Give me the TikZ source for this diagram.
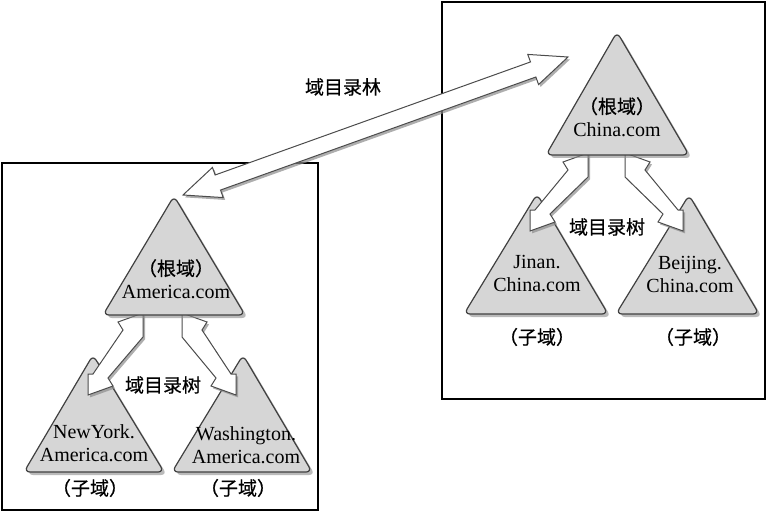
\documentclass[tikz,border=0pt]{standalone}
\usepackage{fontspec}
\setmainfont{Liberation Serif}
\newfontfamily\cjk{Noto Sans CJK SC}[FakeBold=0.5]
\usetikzlibrary{calc,shadows}

% hollow double arrow: [opts] from, to, head length, head half width, shaft half width
\newcommand\hollowarrow[6][]{%
  \draw[harrow,#1] (#2)
    -- ($(#2)!#4!(#3)!#5!90:(#3)$)
    -- ($(#2)!#4!(#3)!#6!90:(#3)$)
    -- ($(#3)!#4!(#2)!#6!-90:(#2)$)
    -- ($(#3)!#4!(#2)!#5!-90:(#2)$)
    -- (#3)
    -- ($(#3)!#4!(#2)!#5!90:(#2)$)
    -- ($(#3)!#4!(#2)!#6!90:(#2)$)
    -- ($(#2)!#4!(#3)!#6!-90:(#3)$)
    -- ($(#2)!#4!(#3)!#5!-90:(#3)$)
    -- cycle;}
% slanted tree link: top tip, bottom tip, side (1 = leans left, -1 = leans right)
\newcommand\treearrow[3]{%
  \draw[harrow] (#1)
    -- ($(#1)+(0,24)$)
    -- ($(#2)+(#3*20,-17)$)
    -- ($(#2)+(#3*25,-9)$)
    -- (#2)
    -- ($(#2)+(0,-21)$)
    -- ($(#2)+(#3*5,-21)$)
    -- ($(#1)+(-#3*20,17)$)
    -- ($(#1)+(-#3*25,9)$)
    -- cycle;}
\newcommand\zh{\cjk\fontsize{9.5}{11.5}\selectfont}

\begin{document}
\begin{tikzpicture}[
  x=0.5pt, y=-0.5pt,
  bx/.style={draw=black, line width=1.2pt},
  tri/.style={fill=black!16, draw=black!75, line width=0.6pt, rounded corners=3pt,
    drop shadow={shadow xshift=1.5pt, shadow yshift=-1.5pt, fill=black!45, opacity=0.6}},
  harrow/.style={fill=white, draw=black!70, line width=0.5pt, line join=miter,
    drop shadow={shadow xshift=1pt, shadow yshift=-1.2pt, fill=black!45, opacity=0.7}},
  lbl/.style={align=center, inner sep=0pt, font=\fontsize{10}{11.5}\selectfont},
]

\useasboundingbox (0,0) rectangle (769,518);

% two domain boxes
\draw [bx] (2,163) rectangle (318,510);
\draw [bx] (442,2) rectangle (765,399);

% child domains
\draw [tri] (94,472) -- (164,472) -- (93,355) -- (24,472) -- cycle;
\draw [tri] (242,472) -- (312,472) -- (243,355) -- (172,472) -- cycle;
\draw [tri] (536,314) -- (608,314) -- (537,194) -- (464,314) -- cycle;
\draw [tri] (688,314) -- (759,314) -- (689,195) -- (616,314) -- cycle;

% tree links
\coordinate (amup1) at (143,313);
\coordinate (amny) at (88,395);
\coordinate (amup2) at (182,313);
\coordinate (amwa) at (236,395);
\coordinate (cnup1) at (588,153);
\coordinate (cnjn) at (530,231);
\coordinate (cnup2) at (625,153);
\coordinate (cnbj) at (683,231);

\treearrow{amup1}{amny}{1}
\treearrow{amup2}{amwa}{-1}
\treearrow{cnup1}{cnjn}{1}
\treearrow{cnup2}{cnbj}{-1}

% root domains
\draw [tri] (174,315) -- (245,315) -- (174,196) -- (103,315) -- cycle;
\draw [tri] (617,155) -- (689,155) -- (617,32) -- (546,155) -- cycle;

% forest link
\coordinate (fam) at (183,195);
\coordinate (fcn) at (568,57);
\hollowarrow{fam}{fcn}{18.5pt}{8pt}{4pt}

% labels
\node [lbl] (amroot) at (176,279) {{\zh （根域）}\\America.com};
\node [lbl] (amnylbl) at (94,443) {NewYork.\\America.com};
\node [lbl] (amwalbl) at (246,445) {Washington.\\America.com};
\node [lbl] (amsub1) at (90,488) {\zh （子域）};
\node [lbl] (amsub2) at (238,488) {\zh （子域）};
\node [lbl] (amtree) at (163,385) {\zh 域目录树};

\node [lbl] (cnroot) at (617,117) {{\zh （根域）}\\China.com};
\node [lbl] (cnjnlbl) at (537,274) {Jinan.\\China.com};
\node [lbl] (cnbjlbl) at (690,275) {Beijing.\\China.com};
\node [lbl] (cnsub1) at (537,337) {\zh （子域）};
\node [lbl] (cnsub2) at (693,337) {\zh （子域）};
\node [lbl] (cntree) at (607,227) {\zh 域目录树};

\node [lbl] (forest) at (343,87) {\zh 域目录林};

\end{tikzpicture}
\end{document}
